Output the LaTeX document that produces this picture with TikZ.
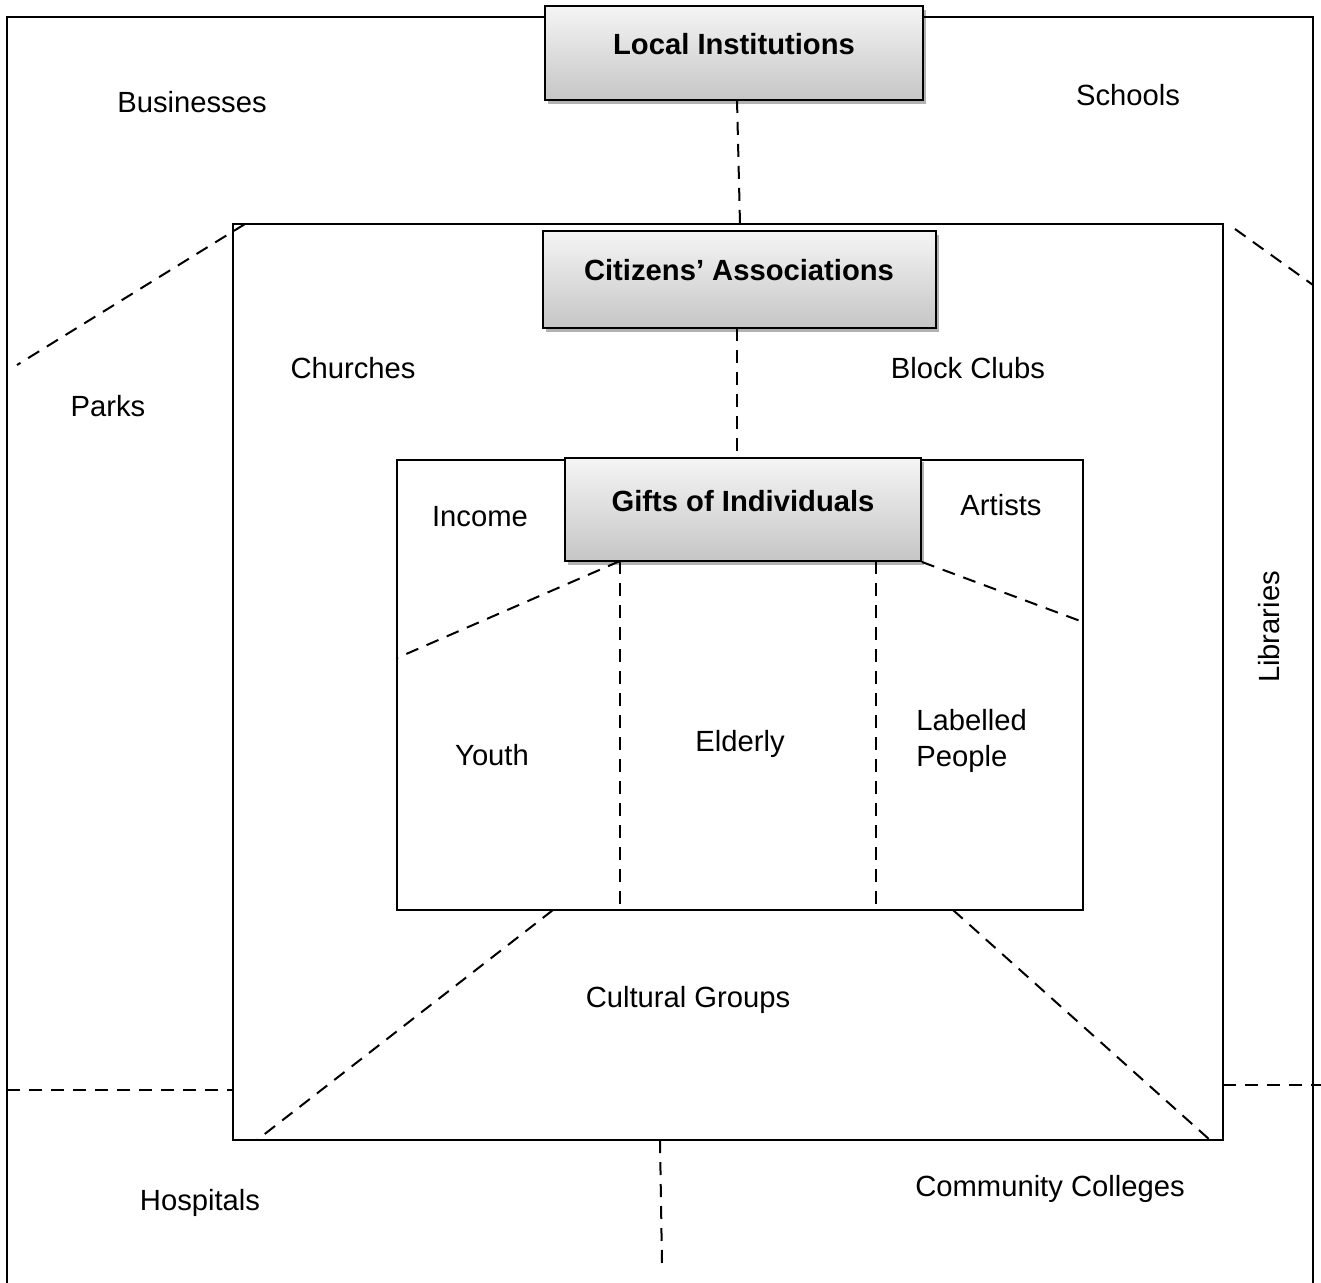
\documentclass[tikz,border=0pt]{standalone}
\usepackage{fontspec}
\setmainfont{Liberation Sans}
\usetikzlibrary{shadows,fit}
\begin{document}
\begin{tikzpicture}[x=0.5pt,y=-0.5pt,
  frame/.style={draw, line width=1pt, inner sep=0pt},
  dline/.style={line width=1pt, dash pattern=on 6.5pt off 4.5pt},
  hbox/.style={draw, line width=1pt, top color=gray!8, bottom color=gray!45,
    drop shadow={shadow xshift=1.5pt, shadow yshift=-2pt, fill=black, opacity=0.3},
    inner sep=0pt},
  lbl/.style={font=\fontsize{14.6pt}{18pt}\selectfont, inner sep=0pt},
  blbl/.style={font=\fontsize{14.6pt}{18pt}\selectfont\bfseries, inner sep=0pt}]
\useasboundingbox (0,0) rectangle (1321,1283);
% frames
\draw[line width=1pt] (7,1283) -- (7,17) -- (1313,17) -- (1313,1283);
\node[frame, fit={(233,224)(1223,1140)}] (mid) {};
\node[frame, fit={(397,460)(1083,910)}] (inn) {};
% header boxes
\node[hbox, fit={(545,6)(923,100)}] (li) {};
\node[blbl] (lit) at (734,44) {Local Institutions};
\node[hbox, fit={(543,231)(936,328)}] (ca) {};
\node[blbl] (cat) at (739,270) {Citizens’ Associations};
\node[hbox, fit={(565,458)(921,561)}] (gi) {};
\node[blbl] (git) at (743,501) {Gifts of Individuals};
% coordinates
\coordinate (c1) at (737,100);
\coordinate (c2) at (740,224);
\coordinate (c3) at (737,328);
\coordinate (c4) at (737,460);
\coordinate (g1) at (620,561);
\coordinate (g2) at (876,561);
\coordinate (i1) at (397,658);
\coordinate (i2) at (1083,622);
\coordinate (i3) at (553,910);
\coordinate (i4) at (953,910);
\coordinate (m1) at (257,1140);
\coordinate (m2) at (1210,1140);
\coordinate (m3) at (245,224);
\coordinate (m4) at (1235,229);
\coordinate (m5) at (233,1090);
\coordinate (m6) at (1223,1085);
\coordinate (m7) at (660,1140);
\coordinate (o1) at (17,365);
\coordinate (o2) at (1313,285);
\coordinate (o3) at (7,1090);
\coordinate (o4) at (1321,1085);
\coordinate (o5) at (662,1265);
% connectors
\draw[dline] (c1) -- (c2);
\draw[dline] (c3) -- (c4);
\draw[dline] (g1) -- (i1);
\draw[dline] (g1) -- (g1 |- inn.south);
\draw[dline] (g2) -- (g2 |- inn.south);
\draw[dline] (gi.south east) -- (i2);
\draw[dline] (i3) -- (m1);
\draw[dline] (i4) -- (m2);
\draw[dline] (m3) -- (o1);
\draw[dline] (m4) -- (o2);
\draw[dline] (o3) -- (m5);
\draw[dline] (m6) -- (o4);
\draw[dline] (m7) -- (o5);
% labels
\node[lbl] (bus) at (192,102) {Businesses};
\node[lbl] (sch) at (1128,95) {Schools};
\node[lbl] (prk) at (108,406) {Parks};
\node[lbl] (chu) at (353,368) {Churches};
\node[lbl] (blk) at (968,368) {Block Clubs};
\node[lbl] (inc) at (480,517) {Income};
\node[lbl] (art) at (1001,505) {Artists};
\node[lbl] (you) at (492,755) {Youth};
\node[lbl] (eld) at (740,744) {Elderly};
\node[lbl, align=left, anchor=west] (lab) at (916,741) {Labelled\\People};
\node[lbl, rotate=90] (lib) at (1269,627) {Libraries};
\node[lbl] (cul) at (688,1000) {Cultural Groups};
\node[lbl] (hos) at (200,1203) {Hospitals};
\node[lbl] (com) at (1050,1189) {Community Colleges};
\end{tikzpicture}
\end{document}
